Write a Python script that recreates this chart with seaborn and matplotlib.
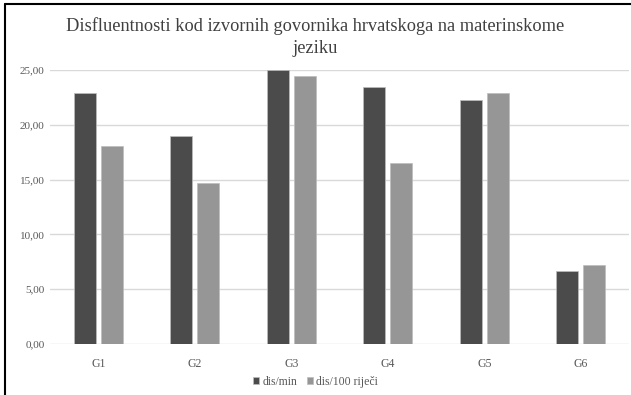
import matplotlib
matplotlib.use("Agg")
import matplotlib.pyplot as plt
from matplotlib.lines import Line2D
from matplotlib.ticker import FuncFormatter, MultipleLocator
import seaborn as sns
import pandas as pd

groups = ["G1", "G2", "G3", "G4", "G5", "G6"]
dis_min = [22.86, 18.98, 24.97, 23.48, 22.30, 6.67]
dis_100 = [18.06, 14.70, 24.42, 16.49, 22.93, 7.22]
series = ["dis/min", "dis/100 riječi"]
title = "Disfluentnosti kod izvornih govornika hrvatskoga na materinskome\njeziku"

df = pd.DataFrame({
    "grupa": groups * 2,
    "vrijednost": dis_min + dis_100,
    "mjera": [series[0]] * len(groups) + [series[1]] * len(groups),
})

sns.set_theme(style="white")
plt.rcParams["font.family"] = ["Liberation Serif", "DejaVu Serif"]

fig = plt.figure(figsize=(6.31, 3.95), dpi=100)
ax = fig.add_axes([50 / 631, 1 - 344 / 395, 579 / 631, 274 / 395])

sns.barplot(
    data=df, x="grupa", y="vrijednost", hue="mjera",
    palette=["#4b4b4b", "#969696"], width=0.56, gap=0.18,
    edgecolor="#bdbdbd", linewidth=0.5, ax=ax, legend=True,
)

ax.set_ylim(0, 25)
ax.yaxis.set_major_locator(MultipleLocator(5))
ax.yaxis.set_major_formatter(FuncFormatter(lambda v, _: f"{v:.2f}".replace(".", ",")))
ax.grid(axis="y", color="#d9d9d9", linewidth=1.0)
ax.set_axisbelow(True)
for s in ax.spines.values():
    s.set_visible(False)
ax.set_xlabel("")
ax.set_ylabel("")
ax.tick_params(axis="y", length=0, pad=4, labelsize=8, labelcolor="#595959")
ax.tick_params(axis="x", length=0, pad=10, labelsize=8.5, labelcolor="#595959")

fig.text(0.5, 1 - 37 / 395, title, ha="center", va="center",
         fontsize=13.2, color="#404040", linespacing=1.4)

handles, labels = ax.get_legend_handles_labels()
ax.legend_.remove()
fig.legend(handles, labels, loc="center", bbox_to_anchor=(0.5, 1 - 382 / 395),
           ncol=2, frameon=False, fontsize=8.5, handlelength=0.5, handleheight=0.5,
           handletextpad=0.3, columnspacing=0.8, labelcolor="#595959")

# frame edges along the top and left of the figure
fig.add_artist(Line2D([5 / 631, 5 / 631], [0, 1 - 4 / 395], color="black", linewidth=1.5,
                      transform=fig.transFigure))
fig.add_artist(Line2D([5 / 631, 1], [1 - 4 / 395, 1 - 4 / 395], color="black", linewidth=1.5,
                      transform=fig.transFigure))

fig.savefig("out.png", dpi=100)
